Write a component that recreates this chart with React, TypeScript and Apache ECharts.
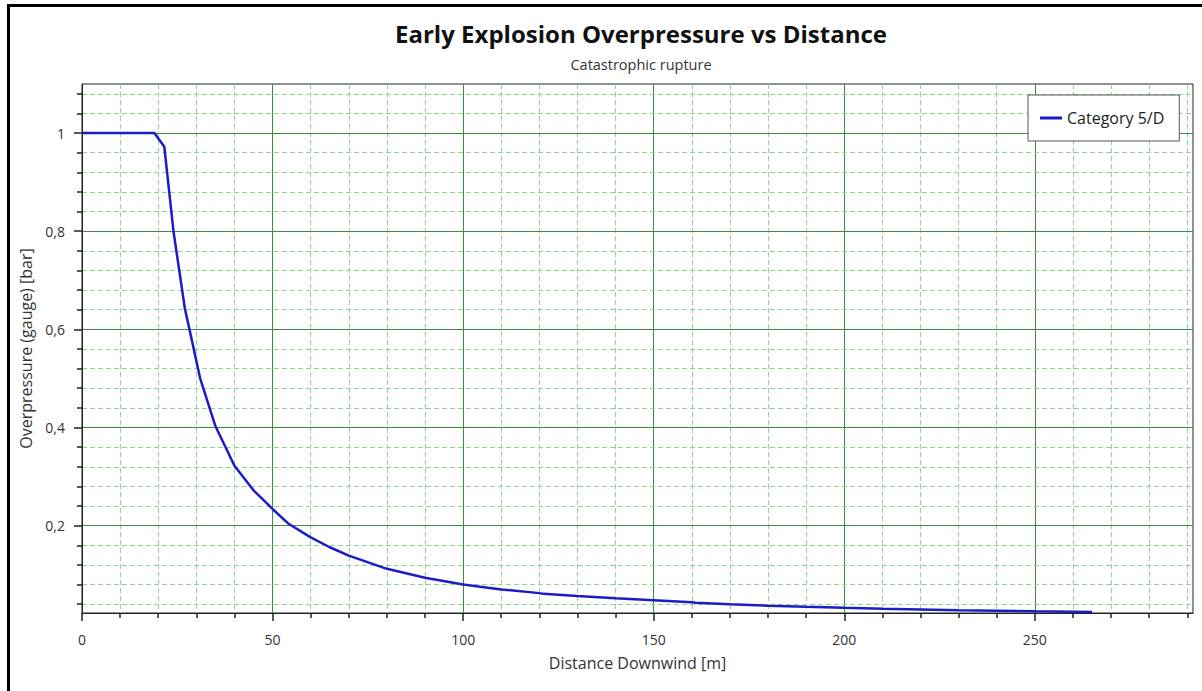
import React, { useEffect, useRef } from "react";
import * as echarts from "echarts";

const distance = [0, 19, 21.6, 24, 27, 28.2, 31, 35, 40, 45, 50, 54, 60, 65, 70, 80, 90, 100, 110, 120, 121, 130, 140, 150, 160, 161, 170, 180, 190, 200, 210, 220, 230, 240, 250, 265];
const overpressure = [1, 1, 0.972, 0.8, 0.642, 0.6, 0.5, 0.403, 0.322, 0.272, 0.234, 0.205, 0.176, 0.156, 0.139, 0.112, 0.094, 0.08, 0.07, 0.0625, 0.061, 0.0565, 0.052, 0.048, 0.0438, 0.0428, 0.0398, 0.037, 0.0346, 0.0325, 0.0307, 0.0292, 0.0278, 0.0266, 0.0255, 0.0242];

const xMajorTicks = [0, 50, 100, 150, 200, 250];
const yMajorTicks = [0.2, 0.4, 0.6, 0.8, 1];
const yMinorTicks = [0.04, 0.08, 0.12, 0.16, 0.24, 0.28, 0.32, 0.36, 0.44, 0.48, 0.52, 0.56, 0.64, 0.68, 0.72, 0.76, 0.84, 0.88, 0.92, 0.96, 1.04, 1.08];

const seriesName = "Category 5/D";
const titleText = "Early Explosion Overpressure vs Distance";
const subtitleText = "Catastrophic rupture";
const xName = "Distance Downwind [m]";
const yName = "Overpressure (gauge) [bar]";

const FONT = "'Open Sans', 'Noto Sans', sans-serif";
const MAJOR = "#3d8c3d";
const MINOR = "#92d492";
const LINE = "#1c1cc4";
const Y_MIN = 0.022;
const Y_MAX = 1.1;

export default function App() {
  const ref = useRef<HTMLDivElement>(null);
  useEffect(() => {
    if (!ref.current) return;
    const chart = echarts.init(ref.current, undefined, { renderer: "svg" });
    const option: any = {
      animation: false,
      backgroundColor: "#fff",
      title: {
        text: titleText,
        subtext: subtitleText,
        left: 636,
        top: 15,
        textAlign: "center",
        itemGap: 10,
        textStyle: { fontFamily: FONT, fontSize: 24, lineHeight: 26, fontWeight: "bold", color: "#111" },
        subtextStyle: { fontFamily: FONT, fontSize: 14.5, lineHeight: 17, color: "#333" },
      },
      legend: {
        left: 1028,
        top: 95,
        padding: [15, 15, 15, 12],
        backgroundColor: "#fff",
        borderColor: "#555",
        borderWidth: 1,
        icon: "rect",
        itemWidth: 22,
        itemHeight: 3,
        textStyle: { fontFamily: FONT, fontSize: 16, color: "#222" },
        data: [seriesName],
      },
      grid: {
        left: 82,
        right: 9,
        top: 84,
        bottom: 78,
        show: true,
        borderColor: "#222",
        borderWidth: 1,
        backgroundColor: "#fff",
      },
      xAxis: [
        {
          type: "value",
          min: 0,
          max: 291.5,
          interval: 50,
          name: xName,
          nameLocation: "middle",
          nameGap: 42,
          nameTextStyle: { fontFamily: FONT, fontSize: 16, color: "#333" },
          axisLine: { show: true, lineStyle: { color: "#222", width: 1 } },
          axisTick: { show: true, length: 8, customValues: xMajorTicks, lineStyle: { color: "#222", width: 1.5 } },
          minorTick: { show: true, splitNumber: 5, length: 5, lineStyle: { color: "#222", width: 1.5 } },
          axisLabel: { customValues: xMajorTicks, margin: 19, fontFamily: FONT, fontSize: 14, color: "#333" },
          splitLine: { show: true, lineStyle: { color: MAJOR, width: 1 } },
          minorSplitLine: { show: true, lineStyle: { color: MINOR, width: 1, type: [5, 3] } },
        },
      ],
      yAxis: [
        {
          type: "value",
          min: Y_MIN,
          max: Y_MAX,
          z: 2,
          name: yName,
          nameLocation: "middle",
          nameGap: 44,
          nameTextStyle: { fontFamily: FONT, fontSize: 16, color: "#333" },
          axisLine: { show: true, lineStyle: { color: "#222", width: 1 } },
          axisTick: { show: true, length: 8, customValues: yMajorTicks, lineStyle: { color: "#222", width: 1.5 } },
          axisLabel: {
            customValues: yMajorTicks,
            margin: 17,
            fontFamily: FONT,
            fontSize: 14,
            color: "#333",
            formatter: (v: number) => String(v).replace(".", ","),
          },
          splitLine: { show: true, lineStyle: { color: MAJOR, width: 1 } },
        },
        {
          type: "value",
          min: Y_MIN,
          max: Y_MAX,
          position: "left",
          z: 1,
          axisLine: { show: false },
          axisTick: { show: true, length: 5, customValues: yMinorTicks, lineStyle: { color: "#222", width: 1.5 } },
          axisLabel: { show: false },
          splitLine: { show: true, lineStyle: { color: MINOR, width: 1, type: [5, 3] } },
        },
      ],
      series: [
        {
          type: "line",
          name: seriesName,
          xAxisIndex: 0,
          yAxisIndex: 0,
          data: distance.map((d, i) => [d, overpressure[i]]),
          showSymbol: false,
          symbol: "none",
          z: 5,
          lineStyle: { color: LINE, width: 2.5 },
          itemStyle: { color: LINE },
        },
      ],
      graphic: [
        {
          type: "rect",
          z: 100,
          silent: true,
          shape: { x: 8.5, y: 5.5, width: 1400, height: 900 },
          style: { fill: "none", stroke: "#000", lineWidth: 3 },
        },
      ],
    };
    chart.setOption(option);
    return () => chart.dispose();
  }, []);
  return (
    <div
      ref={ref}
      style={{ position: "fixed", left: 0, top: 0, width: 1202, height: 691, background: "#fff" }}
    />
  );
}
